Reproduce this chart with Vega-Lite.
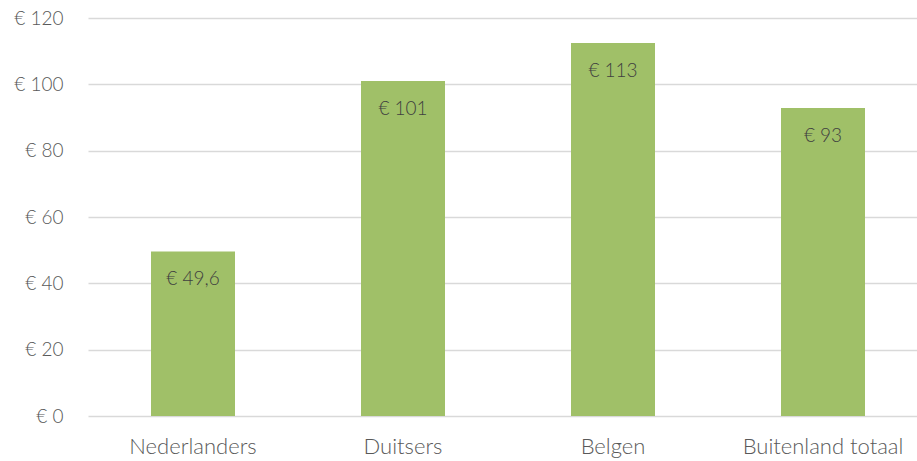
{
  "$schema": "https://vega.github.io/schema/vega-lite/v6.json",
  "width": 840,
  "height": 398,
  "autosize": {"type": "none"},
  "padding": {"left": 88, "top": 18, "right": 0, "bottom": 47},
  "background": "white",
  "config": {"view": {"stroke": null}, "font": "Lato"},
  "data": {"values": [
    {"groep": "Nederlanders", "bedrag": 49.6, "label": "€ 49,6"},
    {"groep": "Duitsers", "bedrag": 101, "label": "€ 101"},
    {"groep": "Belgen", "bedrag": 112.5, "label": "€ 113"},
    {"groep": "Buitenland totaal", "bedrag": 92.9, "label": "€ 93"}
  ]},
  "encoding": {
    "x": {"field": "groep", "type": "nominal", "sort": null,
      "scale": {"paddingInner": 0.6, "paddingOuter": 0.3},
      "axis": {"title": null, "labelAngle": 0, "domain": false, "ticks": false, "labelPadding": 20,
        "labelFontSize": 22, "labelColor": "#595959", "labelFont": "Lato", "labelFontWeight": 300}},
    "y": {"field": "bedrag", "type": "quantitative",
      "scale": {"domain": [0, 120]},
      "axis": {"title": null, "values": [0, 20, 40, 60, 80, 100, 120], "labelExpr": "'€ ' + datum.value",
        "domain": false, "ticks": false, "labelPadding": 25, "gridColor": "#D9D9D9", "gridWidth": 1.5,
        "labelFontSize": 19, "labelColor": "#595959", "labelFont": "Lato", "labelFontWeight": 300}}
  },
  "layer": [
    {"mark": {"type": "bar", "color": "#A0C068"}},
    {"mark": {"type": "text", "baseline": "middle", "dy": 28, "fontSize": 19, "color": "#404040", "font": "Lato", "fontWeight": 300},
     "encoding": {"text": {"field": "label"}}}
  ]
}
